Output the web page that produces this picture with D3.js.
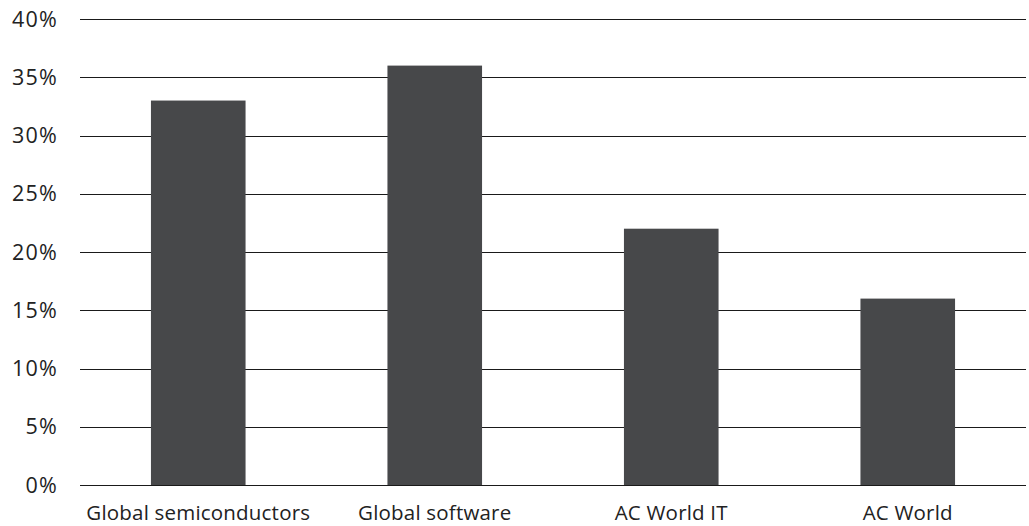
<!DOCTYPE html>
<html><head><meta charset="utf-8">
<script src="https://cdn.jsdelivr.net/npm/d3@7"></script>
<style>body{margin:0;background:#fff;} text{font-family:"Open Sans","Noto Sans",sans-serif;}</style>
</head><body>
<svg id="c" width="1029" height="526"></svg>
<script>
const categories = ["Global semiconductors","Global software","AC World IT","AC World"];
const values = [33, 36, 22, 16];
const yTicks = [0,5,10,15,20,25,30,35,40];

(function(){
const svg = d3.select("#c");
const mLeft = 80, mRight = 1026, mTop = 19, mBottom = 485;
const x = d3.scaleBand().domain(categories).range([mLeft, mRight]).paddingInner(0.6).paddingOuter(0.3);
const y = d3.scaleLinear().domain([0,40]).range([mBottom, mTop]);

svg.append("g").selectAll("line").data(yTicks).join("line")
  .attr("x1", mLeft).attr("x2", mRight)
  .attr("y1", d => Math.round(y(d)) + 0.5).attr("y2", d => Math.round(y(d)) + 0.5)
  .attr("stroke", "#1a1a1a").attr("stroke-width", 1.2);

svg.append("g").selectAll("text").data(yTicks).join("text")
  .attr("x", 58).attr("y", d => y(d)).attr("dy", "0.36em")
  .attr("text-anchor", "end").attr("font-size", 21.5)
  .attr("letter-spacing", "1.2px").attr("fill", "#222")
  .text(d => d + "%");

svg.append("g").selectAll("rect").data(values).join("rect")
  .attr("x", (d,i) => x(categories[i])).attr("width", x.bandwidth())
  .attr("y", d => y(d)).attr("height", d => y(0) - y(d))
  .attr("fill", "#47484a");

svg.append("g").selectAll("text").data(categories).join("text")
  .attr("x", d => x(d) + x.bandwidth()/2).attr("y", 520)
  .attr("text-anchor", "middle").attr("font-size", 20.5)
  .attr("letter-spacing", "0.2px").attr("fill", "#222")
  .text(d => d);
})();
</script>
</body></html>
